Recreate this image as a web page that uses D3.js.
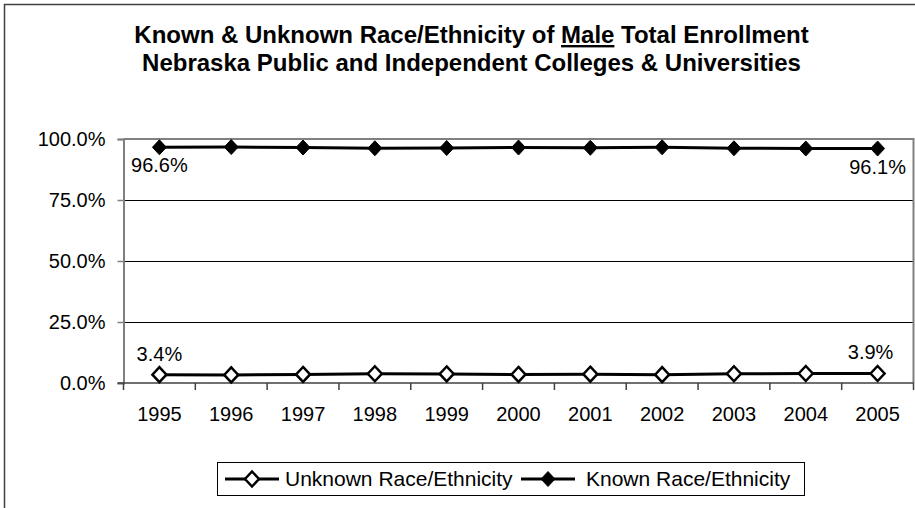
<!DOCTYPE html>
<html>
<head>
<meta charset="utf-8">
<script src="https://cdn.jsdelivr.net/npm/d3@7"></script>
<style>
  html, body { margin: 0; padding: 0; background: #fff; }
  svg { display: block; font-family: Arial, "Liberation Sans", sans-serif; }
</style>
</head>
<body>
<svg id="chart" width="915" height="508"></svg>
<script>
const years = ["1995","1996","1997","1998","1999","2000","2001","2002","2003","2004","2005"];
const unknownRace = [3.4, 3.3, 3.5, 3.8, 3.7, 3.5, 3.6, 3.4, 3.8, 3.9, 3.9];
const knownRace = [96.6, 96.7, 96.5, 96.2, 96.3, 96.5, 96.4, 96.6, 96.2, 96.1, 96.1];
const yTicks = [0, 25, 50, 75, 100];
const titleLines = ["Known & Unknown Race/Ethnicity of ", "Male", " Total Enrollment"];
const subtitle = "Nebraska Public and Independent Colleges & Universities";
const seriesNames = ["Unknown Race/Ethnicity", "Known Race/Ethnicity"];

const svg = d3.select("#chart");
svg.append("rect").attr("width", 915).attr("height", 508).attr("fill", "#fff");

// outer frame (left & top visible)
svg.append("path").attr("d", "M4.5,508 V4.5 H915").attr("fill", "none")
  .attr("stroke", "#404040").attr("stroke-width", 1.5);

const plot = {left: 123.5, right: 913.5, top: 139, bottom: 383};

const x = d3.scaleBand().domain(years).range([plot.left, plot.right]).paddingInner(0).paddingOuter(0);
const y = d3.scaleLinear().domain([0, 100]).range([plot.bottom, plot.top]);

// gridlines
svg.append("g").selectAll("line").data(yTicks.filter(t => t > 0 && t < 100)).join("line")
  .attr("x1", plot.left).attr("x2", plot.right)
  .attr("y1", d => y(d) + 0.5).attr("y2", d => y(d) + 0.5)
  .attr("stroke", "#000").attr("stroke-width", 1).attr("shape-rendering", "crispEdges");

// plot border top and right (gray)
svg.append("path")
  .attr("d", `M${plot.left},${y(100)} H${plot.right} V${plot.bottom}`)
  .attr("fill", "none").attr("stroke", "#808080").attr("stroke-width", 2);

// y axis
const yAxis = d3.axisLeft(y).tickValues(yTicks).tickSize(6).tickPadding(12)
  .tickFormat(d => d.toFixed(1) + "%");
const gy = svg.append("g").attr("transform", `translate(${plot.left},0)`).call(yAxis);
gy.select(".domain").attr("stroke", "#808080").attr("stroke-width", 2);
gy.selectAll(".tick line").attr("stroke", "#808080").attr("stroke-width", 1.5);
gy.selectAll(".tick text").attr("font-size", "20px").attr("fill", "#000")
  .attr("font-family", "Arial, 'Liberation Sans', sans-serif");

// x axis with ticks at band boundaries
const gx = svg.append("g").attr("transform", `translate(0,${plot.bottom})`);
gx.append("line").attr("x1", plot.left - 6).attr("x2", plot.right)
  .attr("y1", 0).attr("y2", 0).attr("stroke", "#404040").attr("stroke-width", 1.5);
const boundaries = years.map(d => x(d)).concat([x(years[years.length-1]) + x.bandwidth()]);
gx.selectAll("line.tk").data(boundaries).join("line").attr("class", "tk")
  .attr("x1", d => d).attr("x2", d => d).attr("y1", 0).attr("y2", 7)
  .attr("stroke", "#404040").attr("stroke-width", 1.5);
gx.selectAll("text").data(years).join("text")
  .attr("x", d => x(d) + x.bandwidth() / 2).attr("y", 38)
  .attr("text-anchor", "middle").attr("font-size", "20px").attr("fill", "#000")
  .text(d => d);

const cx = d => x(d) + x.bandwidth() / 2;
const line = d3.line().x(d => cx(d.year)).y(d => y(d.v));
const diamond = "M0,-7.5L7,0L0,7.5L-7,0Z";

const series = [
  {name: seriesNames[0], values: unknownRace, fill: "#fff"},
  {name: seriesNames[1], values: knownRace, fill: "#000"}
];

series.forEach(s => {
  const pts = years.map((yr, i) => ({year: yr, v: s.values[i]}));
  svg.append("path").datum(pts).attr("d", line)
    .attr("fill", "none").attr("stroke", "#000").attr("stroke-width", 3);
  svg.append("g").selectAll("path").data(pts).join("path")
    .attr("d", diamond)
    .attr("transform", d => `translate(${cx(d.year)},${y(d.v)})`)
    .attr("fill", s.fill).attr("stroke", "#000").attr("stroke-width", s.fill === "#fff" ? 2.5 : 1);
});

// data labels on first and last points
const fmt = v => v.toFixed(1) + "%";
const lastIdx = years.length - 1;
[[0, 0], [lastIdx, -7]].forEach(([i, dx]) => {
  svg.append("text").attr("x", cx(years[i]) + dx).attr("y", y(unknownRace[i]) - 14)
    .attr("text-anchor", "middle").attr("font-size", "20px").text(fmt(unknownRace[i]));
  svg.append("text").attr("x", cx(years[i])).attr("y", y(knownRace[i]) + 25)
    .attr("text-anchor", "middle").attr("font-size", "20px").text(fmt(knownRace[i]));
});

// title
const t1 = svg.append("text").attr("x", 471.5).attr("y", 43).attr("text-anchor", "middle")
  .attr("font-size", "24px").attr("font-weight", "bold");
t1.append("tspan").text(titleLines[0]);
t1.append("tspan").attr("text-decoration", "underline").text(titleLines[1]);
t1.append("tspan").text(titleLines[2]);
svg.append("text").attr("x", 471.5).attr("y", 71).attr("text-anchor", "middle")
  .attr("font-size", "24px").attr("font-weight", "bold").text(subtitle);

// legend
const lg = svg.append("g");
lg.append("rect").attr("x", 217.5).attr("y", 462.5).attr("width", 587).attr("height", 33)
  .attr("fill", "#fff").attr("stroke", "#000").attr("stroke-width", 1);
const legendX = [225, 521];
const legendTextGap = [60, 65];
series.forEach((s, i) => {
  const lx = legendX[i];
  lg.append("line").attr("x1", lx).attr("x2", lx + 54).attr("y1", 479).attr("y2", 479)
    .attr("stroke", "#000").attr("stroke-width", 3);
  lg.append("path").attr("d", diamond).attr("transform", `translate(${lx + 27},479)`)
    .attr("fill", s.fill).attr("stroke", "#000").attr("stroke-width", s.fill === "#fff" ? 2.5 : 1);
  lg.append("text").attr("x", lx + legendTextGap[i]).attr("y", 486).attr("font-size", "21px").text(s.name);
});
</script>
</body>
</html>
